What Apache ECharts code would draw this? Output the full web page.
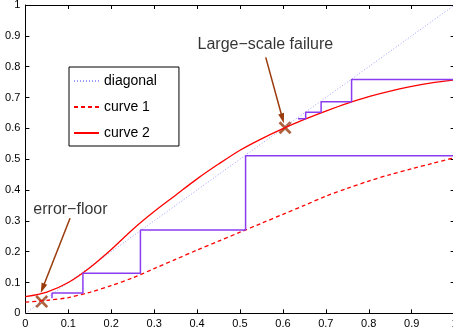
<!DOCTYPE html>
<html>
<head>
<meta charset="UTF-8">
<title>error-floor</title>
<script src="https://cdn.jsdelivr.net/npm/echarts@6/dist/echarts.min.js"></script>
<style>
  html, body { margin: 0; padding: 0; background: #fff; }
</style>
</head>
<body>
<div id="main" style="width:453px;height:333px;"></div>
<script>
// values
const xs = [0, 0.05, 0.1, 0.15, 0.2, 0.25, 0.3, 0.35, 0.4, 0.45, 0.5,
            0.55, 0.6, 0.65, 0.7, 0.75, 0.8, 0.85, 0.9, 0.95, 1.0]
const curve1 = [0.036, 0.042, 0.051, 0.068, 0.090, 0.115, 0.145, 0.175, 0.205, 0.234, 0.263,
                0.292, 0.321, 0.350, 0.380, 0.405, 0.429, 0.450, 0.469, 0.487, 0.505]
const curve2 = [0.054, 0.069, 0.100, 0.148, 0.207, 0.272, 0.330, 0.383, 0.436, 0.484, 0.529,
                0.566, 0.599, 0.629, 0.656, 0.681, 0.703, 0.721, 0.736, 0.748, 0.757]
const diagonal = [[0, 0], [1, 1]]

// staircases (x, y)
const stairLow = [[0.062, 0.049], [0.062, 0.066], [0.134, 0.066], [0.134, 0.130],
                  [0.268, 0.130], [0.268, 0.270], [0.513, 0.270], [0.513, 0.511], [1, 0.511]]
const stairHigh = [[0.635, 0.631], [0.653, 0.631], [0.653, 0.652], [0.689, 0.652],
                   [0.689, 0.686], [0.760, 0.686], [0.760, 0.758], [1, 0.758]]

// annotations
const crosses = [[0.038, 0.038], [0.605, 0.602]]
const notes = [
    { name: 'error\u2212floor', value: [0.105, 0.338] },
    { name: 'Large\u2212scale failure', value: [0.559, 0.870] }
]
const arrows = [
    [[0.104, 0.308], [0.040, 0.081]],
    [[0.560, 0.830], [0.599, 0.632]]
]
const ticks = [0, 0.1, 0.2, 0.3, 0.4, 0.5, 0.6, 0.7, 0.8, 0.9, 1]

const font = 'Liberation Sans, Arial, Helvetica, sans-serif'
const brown = '#9a3b0c'

function zip(a, b) {
    return a.map((v, i) => [v, b[i]])
}

function fmt(v) {
    return String(+v.toFixed(1))
}

function axis(pos, labels) {
    return {
        type: 'value',
        position: pos,
        min: ticks[0],
        max: ticks[ticks.length - 1],
        interval: 0.1,
        axisLine: { show: true, onZero: false, lineStyle: { color: '#000', width: 1 } },
        axisTick: { show: true, inside: true, length: 4, lineStyle: { color: '#000' } },
        axisLabel: { show: labels, formatter: fmt, color: '#000', fontSize: 11, fontFamily: font, margin: 5 },
        splitLine: { show: false }
    }
}

const myChart = echarts.init(document.getElementById('main'), null, { renderer: 'canvas' })

const option = {
    animation: false,
    backgroundColor: '#fff',
    grid: {
        left: 25.4, width: 429.2, top: 5, height: 308.3,
        containLabel: false, outerBoundsMode: 'none'
    },
    xAxis: [axis('bottom', true), axis('top', false)],
    yAxis: [axis('left', true), axis('right', false)],
    legend: {
        left: 69,
        top: 67,
        orient: 'vertical',
        selectedMode: false,
        data: ['diagonal', 'curve 1', 'curve 2'],
        itemWidth: 25,
        itemHeight: 14,
        itemGap: 12,
        padding: [7, 22, 6, 4],
        backgroundColor: '#fff',
        borderColor: '#000',
        borderWidth: 1,
        itemStyle: { opacity: 0 },
        textStyle: { color: '#000', fontSize: 14, fontFamily: font }
    },
    series: [
        {
            name: 'diagonal',
            type: 'line',
            data: diagonal,
            symbol: 'none',
            lineStyle: { color: '#9c9cff', width: 1, type: [1, 2] },
            itemStyle: { color: '#9c9cff' }
        },
        {
            name: 'curve 1',
            type: 'line',
            data: zip(xs, curve1),
            symbol: 'none',
            smooth: 0.3,
            lineStyle: { color: '#ff0000', width: 1.3, type: [4, 3] },
            itemStyle: { color: '#ff0000' }
        },
        {
            name: 'curve 2',
            type: 'line',
            data: zip(xs, curve2),
            symbol: 'none',
            smooth: 0.3,
            lineStyle: { color: '#ff0000', width: 1.3 },
            itemStyle: { color: '#ff0000' }
        },
        {
            name: 'stairs low',
            type: 'line',
            data: stairLow,
            symbol: 'none',
            lineStyle: { color: '#8a3cf0', width: 1.5 }
        },
        {
            name: 'stairs high',
            type: 'line',
            data: stairHigh,
            symbol: 'none',
            lineStyle: { color: '#8a3cf0', width: 1.5 }
        },
        {
            name: 'marks',
            type: 'scatter',
            data: crosses,
            symbol: 'path://M1.5,0L5,3.5L8.5,0L10,1.5L6.5,5L10,8.5L8.5,10L5,6.5L1.5,10L0,8.5L3.5,5L0,1.5Z',
            symbolSize: 13,
            itemStyle: { color: brown },
            silent: true,
            markLine: {
                silent: true,
                symbol: ['none', 'triangle'],
                symbolSize: [6, 10],
                label: { show: false },
                lineStyle: { color: brown, width: 1.5, type: 'solid' },
                data: arrows.map(a => [{ coord: a[0] }, { coord: a[1] }])
            }
        },
        {
            name: 'notes',
            type: 'scatter',
            data: notes,
            symbolSize: 0,
            silent: true,
            label: {
                show: true,
                position: 'inside',
                formatter: p => p.name,
                color: '#000',
                fontSize: 16,
                fontFamily: font
            }
        }
    ]
}

myChart.setOption(option)
</script>
</body>
</html>
